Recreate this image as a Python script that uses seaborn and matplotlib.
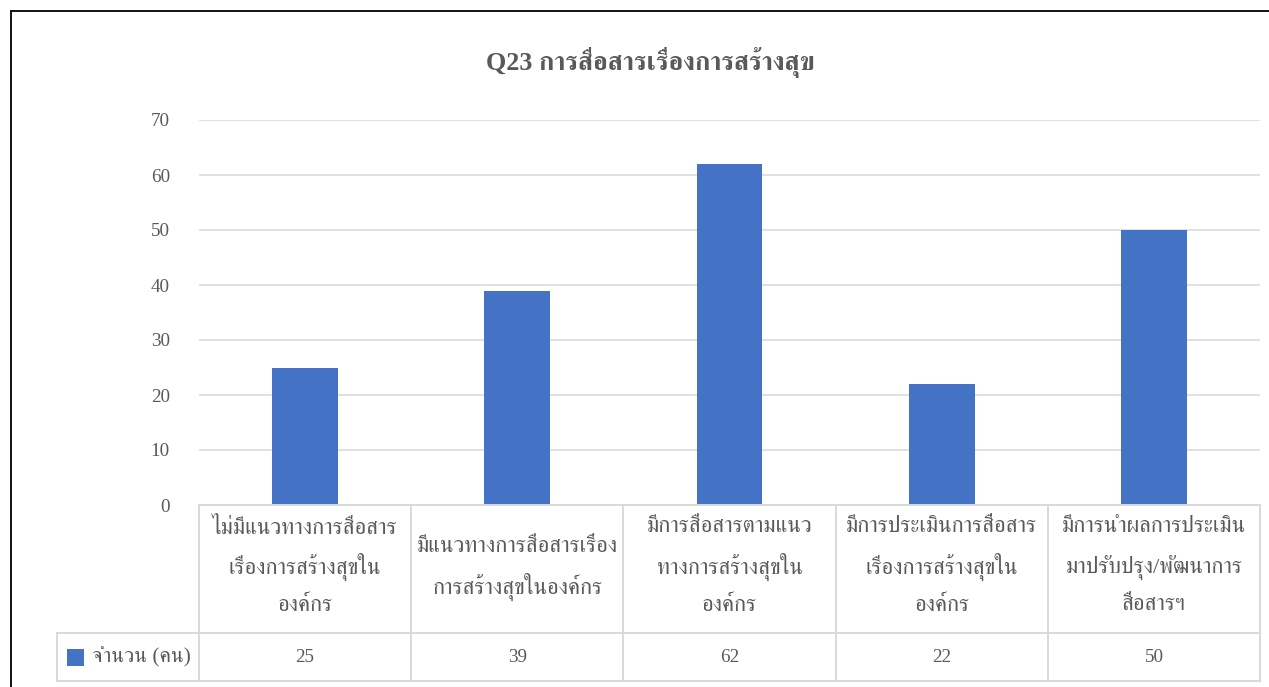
import matplotlib
matplotlib.use("Agg")
import numpy as np
import pandas as pd
import seaborn as sns
import matplotlib.pyplot as plt
import matplotlib.transforms as mtransforms
from matplotlib.lines import Line2D
from matplotlib.patches import Rectangle

# ---------------- data ----------------
title = "Q23 การสื่อสารเรื่องการสร้างสุข"
categories = [
    "ไม่มีแนวทางการสื่อสาร\nเรื่องการสร้างสุขใน\nองค์กร",
    "มีแนวทางการสื่อสารเรื่อง\nการสร้างสุขในองค์กร",
    "มีการสื่อสารตามแนว\nทางการสร้างสุขใน\nองค์กร",
    "มีการประเมินการสื่อสาร\nเรื่องการสร้างสุขใน\nองค์กร",
    "มีการนำผลการประเมิน\nมาปรับปรุง/พัฒนาการ\nสื่อสารฯ",
]
values = [25, 39, 62, 22, 50]
series_name = "จำนวน (คน)"
y_ticks = [0, 10, 20, 30, 40, 50, 60, 70]

# ---------------- style ----------------
sns.set_style("white")
plt.rcParams["font.family"] = ["Liberation Serif", "FreeSerif"]
TXT = "#595959"
GRID = "#d9d9d9"
BAR = "#4472C4"

W, H = 1269, 687
fig = plt.figure(figsize=(W / 100, H / 100), dpi=100)
fig.patch.set_facecolor("white")

# plot area (pixels): x 199..1260, y 120..505
L, R, T, B = 199, 1260, 120, 505
ax = fig.add_axes([L / W, 1 - B / H, (R - L) / W, (B - T) / H])

df = pd.DataFrame({"cat": categories, "val": values})
sns.barplot(data=df, x="cat", y="val", order=categories, color=BAR,
            saturation=1, width=0.31, ax=ax, linewidth=0)

ax.set_xlim(-0.5, len(categories) - 0.5)
ax.set_ylim(y_ticks[0], y_ticks[-1])
ax.set_yticks(y_ticks)
ax.set_xticks([])
ax.set_xlabel("")
ax.set_ylabel("")
ax.yaxis.grid(True, color=GRID, lw=1.1)
ax.set_axisbelow(True)
for s in ax.spines.values():
    s.set_visible(False)
ax.tick_params(axis="y", length=0, pad=21, labelsize=13.8, labelcolor=TXT)

renderer = fig.canvas.get_renderer()

def fit_size(text, target_px, base=14, **kw):
    t = fig.text(0, 0, text, fontsize=base, **kw)
    w = t.get_window_extent(renderer).width
    t.remove()
    return base * target_px / w

thai_size = fit_size("ไม่มีแนวทางการสื่อสาร", 185)
legend_size = fit_size(series_name, 99)
title_size = fit_size(title, 328, base=18, weight="bold")

# ---------------- data table ----------------
trans = mtransforms.blended_transform_factory(ax.transData, ax.transAxes)
pxx = (R - L) / len(categories)       # pixels per category
pxy = (B - T)                          # pixels per axes unit
def ay(ypix):
    return -(ypix - B) / pxy
def dx(xpix):
    return -0.5 + (xpix - L) / pxx

r0, r1, r2 = ay(505), ay(633), ay(681)
xl = dx(57)
xr = len(categories) - 0.5
lw_t = 1.4
lines = [
    ([-0.5, xr], [r0, r0]),
    ([xl, xr], [r1, r1]),
    ([xl, xr], [r2, r2]),
    ([xl, xl], [r1, r2]),
]
for k in range(len(categories) + 1):
    xk = -0.5 + k
    lines.append(([xk, xk], [r0, r2]))
for xs, ys in lines:
    ax.add_line(Line2D(xs, ys, transform=trans, color=GRID, lw=lw_t,
                       clip_on=False, solid_capstyle="projecting"))

# category labels
row_c = 567
spacing = 39
for i, lab in enumerate(categories):
    parts = lab.split("\n")
    n = len(parts)
    for j, p in enumerate(parts):
        ypx = row_c + (j - (n - 1) / 2) * spacing
        ax.text(i, ay(ypx), p, transform=trans, ha="center", va="center",
                fontsize=thai_size, color=TXT, clip_on=False)

# values row
for i, v in enumerate(values):
    ax.text(i, ay(657), str(v), transform=trans, ha="center", va="center",
            fontsize=13.8, color=TXT, clip_on=False)

# legend key + series name
sq = 17
ax.add_patch(Rectangle((dx(67), ay(657 + sq / 2)), sq / pxx, sq / pxy,
                       transform=trans, color=BAR, clip_on=False, lw=0))
ax.text(dx(92), ay(657), series_name, transform=trans, ha="left", va="center",
        fontsize=legend_size, color=TXT, clip_on=False)

# title
fig.text(650 / W, 1 - 62 / H, title, ha="center", va="center",
         fontsize=title_size, weight="bold", color=TXT)

# chart frame (top and left edges visible)
fig.add_artist(Line2D([11 / W, 11 / W], [0, 1 - 11 / H], transform=fig.transFigure,
                      color="black", lw=1.3))
fig.add_artist(Line2D([11 / W, 1], [1 - 11 / H, 1 - 11 / H], transform=fig.transFigure,
                      color="black", lw=1.3))

fig.savefig("out.png", dpi=100, facecolor="white")
